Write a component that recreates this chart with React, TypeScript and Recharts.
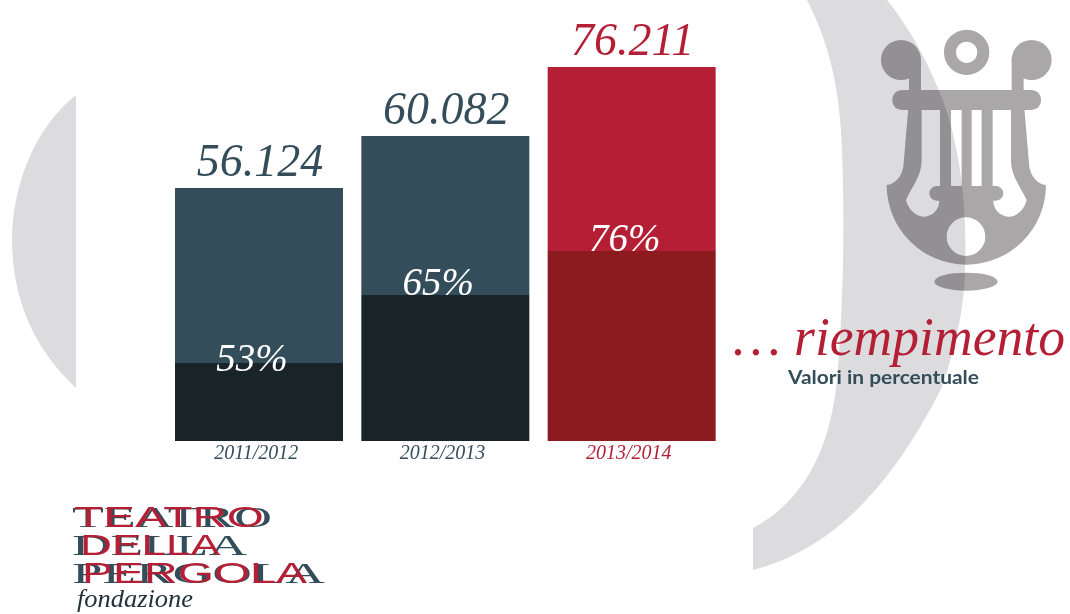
import { BarChart, Bar, XAxis, YAxis, Cell, LabelList } from 'recharts'

const seasons = ['2011/2012', '2012/2013', '2013/2014']
const spectators = ['56.124', '60.082', '76.211']
const fillRates = ['53%', '65%', '76%']

// the source bars are not drawn to the printed numbers, so these are read off the bars themselves
const drawnTotal = [253, 305, 374]
const drawnFill = [78, 146, 190]

const upperColors = ['#334d5a', '#334d5a', '#b41f35']
const lowerColors = ['#192429', '#192429', '#8b1b1f']
const textColors = ['#334d5a', '#334d5a', '#b41f35']

const chartData = seasons.map((season, i) => ({
  season,
  filled: drawnFill[i],
  rest: drawnTotal[i] - drawnFill[i],
}))

const layer = { position: 'absolute', left: 0, top: 0 } as const
const serif = '"Liberation Serif", serif'

function TotalLabel(props: any) {
  const { x, y, width, index } = props
  return (
    <text x={x + width / 2 + 1} y={y - 12} textAnchor="middle" fontFamily={serif} fontStyle="italic" fontSize={46} fill={textColors[index]}>
      {spectators[index]}
    </text>
  )
}

function RateLabel(props: any) {
  const { x, y, width, height, index } = props
  return (
    <text x={x + width / 2 - 7} y={y + height + (index === 0 ? 8 : 0)} textAnchor="middle" fontFamily={serif} fontStyle="italic" fontSize={39} fill="#ffffff">
      {fillRates[index]}
    </text>
  )
}

function SeasonTick(props: any) {
  const { x, y, payload, index } = props
  return (
    <text x={x - 3} y={y + 10} textAnchor="middle" fontFamily={serif} fontStyle="italic" fontSize={20} fill={textColors[index]}>
      {payload.value}
    </text>
  )
}

function Backdrop() {
  return (
    <svg width={1070} height={614} style={layer}>
      <path d="M76 95 C32 130 12 190 12 240 C12 300 35 350 76 388 Z" fill="#dcdcde" />
      <path
        d="M807 0 C830 45 840 90 842 150 C845 230 843 310 837 380 C832 430 815 495 753 528 L753 570 C830 550 890 490 942 387 C958 340 965 300 965 267 C968 190 955 130 940 93 C925 55 905 22 887 0 Z"
        fill="#dcdcde"
      />
      <g style={{ mixBlendMode: 'multiply' }} fill="#a9a7a8" transform="translate(720 0) scale(0.3333)">
        <circle cx={543} cy={180} r={60} />
        <circle cx={935} cy={180} r={60} />
        <circle cx={740} cy={157} r={50} fill="none" stroke="#a9a7a8" strokeWidth={36} />
        <rect x={567} y={180} width={36} height={100} />
        <rect x={875} y={180} width={36} height={100} />
        <rect x={517} y={270} width={446} height={60} rx={28} />
        <path
          fillRule="evenodd"
          d="M565 325 L550 500 C545 530 525 552 500 555 A239 239 0 0 0 978 555 C953 552 933 530 928 500 L913 325 Z
             M605 330 L660 330 L660 558 L650 558 A22 22 0 0 0 650 602 L658 602 C658 630 635 650 610 650 C590 650 565 630 558 600 C575 560 605 530 605 480 Z
             M873 330 L818 330 L818 558 L828 558 A22 22 0 0 1 828 602 L820 602 C820 630 843 650 868 650 C888 650 913 630 920 600 C903 560 873 530 873 480 Z
             M693 330 L725 330 L725 558 L693 558 Z
             M755 330 L785 330 L785 558 L755 558 Z
             M738 652 A58 58 0 1 0 738 768 A58 58 0 1 0 738 652 Z"
        />
        <ellipse cx={738} cy={845} rx={95} ry={27} />
      </g>
    </svg>
  )
}

function Captions() {
  return (
    <svg width={1070} height={614} style={layer}>
      <text x={733} y={355} fontFamily={serif} fontStyle="italic" fontSize={54} fill="#b41f35" textLength={332} lengthAdjust="spacingAndGlyphs">
        {'… riempimento'}
      </text>
      <text x={788} y={384} fontFamily="Lato, sans-serif" fontWeight={700} fontSize={18} fill="#334d5a" textLength={191} lengthAdjust="spacingAndGlyphs">
        Valori in percentuale
      </text>

      <g fontFamily={serif} fill="#334d5a" fontSize={29}>
        <text x={72} y={527} textLength={200} lengthAdjust="spacingAndGlyphs">TEATRO</text>
        <text x={72} y={555} textLength={175} lengthAdjust="spacingAndGlyphs">DELLA</text>
        <text x={72} y={583} textLength={253} lengthAdjust="spacingAndGlyphs">PERGOLA</text>
      </g>
      <g fontFamily="Liberation Sans, sans-serif" fill="#b41f35" fontSize={29}>
        <text x={74} y={527} textLength={190} lengthAdjust="spacingAndGlyphs">TEATRO</text>
        <text x={80} y={555} textLength={140} lengthAdjust="spacingAndGlyphs">DELLA</text>
        <text x={82} y={583} textLength={225} lengthAdjust="spacingAndGlyphs">PERGOLA</text>
      </g>
      <text x={77} y={607} fontFamily={serif} fontStyle="italic" fontSize={25} fill="#22323c" textLength={116} lengthAdjust="spacingAndGlyphs">
        fondazione
      </text>
    </svg>
  )
}

export default function App() {
  return (
    <div style={{ ...layer, width: 1070, height: 614, background: '#ffffff', overflow: 'hidden' }}>
      <Backdrop />
      <div style={layer}>
        <BarChart
          width={1070}
          height={614}
          data={chartData}
          barSize={168}
          margin={{ top: 0, right: 345, left: 166, bottom: 143 }}
        >
          <XAxis dataKey="season" axisLine={false} tickLine={false} interval={0} height={30} tick={<SeasonTick />} />
          <YAxis type="number" domain={[0, 441]} hide />
          <Bar dataKey="filled" stackId="seat" isAnimationActive={false}>
            {chartData.map((entry, index) => (
              <Cell key={entry.season} fill={lowerColors[index]} />
            ))}
          </Bar>
          <Bar dataKey="rest" stackId="seat" isAnimationActive={false}>
            {chartData.map((entry, index) => (
              <Cell key={entry.season} fill={upperColors[index]} />
            ))}
            <LabelList dataKey="rest" content={<TotalLabel />} />
            <LabelList dataKey="rest" content={<RateLabel />} />
          </Bar>
        </BarChart>
      </div>
      <Captions />
    </div>
  )
}
